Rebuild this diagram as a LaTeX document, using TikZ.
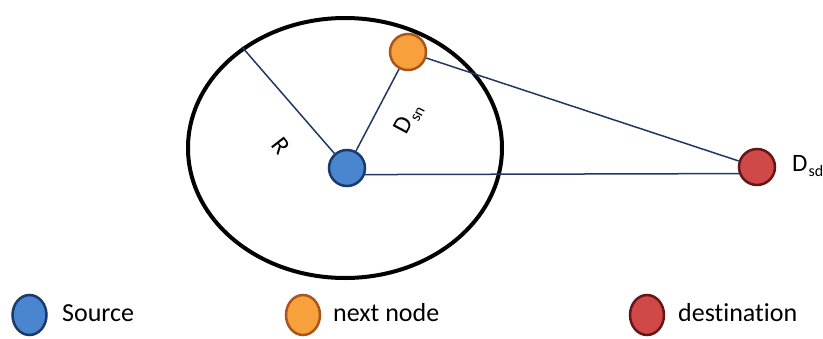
\documentclass[tikz,border=0pt]{standalone}
\usepackage{fontspec}
\setmainfont[Ligatures={NoCommon}]{Carlito}
\usetikzlibrary{shapes.geometric}
\definecolor{lineblue}{HTML}{1F3864}
\definecolor{srcfill}{HTML}{4A86D0}
\definecolor{srcdraw}{HTML}{1B3A6B}
\definecolor{nxtfill}{HTML}{F8A03C}
\definecolor{nxtdraw}{HTML}{A8561A}
\definecolor{dstfill}{HTML}{D04848}
\definecolor{dstdraw}{HTML}{651616}
\tikzset{
  dot/.style={circle, minimum size=36pt, inner sep=0pt, line width=2.5pt},
  legdot/.style={ellipse, minimum width=34pt, minimum height=40pt, inner sep=0pt, line width=2.5pt},
  link/.style={draw=lineblue, line width=1.5pt},
  legtext/.style={anchor=west, inner sep=0pt, font=\fontsize{26}{30}\selectfont},
  lab/.style={inner sep=0pt, font=\fontsize{25}{29}\selectfont}
}
\begin{document}
\begin{tikzpicture}[x=1pt, y=-1pt]
\useasboundingbox (0,0) rectangle (823,338);
% range circle
\draw[line width=4pt] (345,148) ellipse [x radius=157, y radius=130];
\coordinate (rim) at (242,47);
% nodes
\node[dot, fill=srcfill, draw=srcdraw] (s) at (347,168) {};
\node[dot, fill=nxtfill, draw=nxtdraw] (n) at (408,52) {};
\node[dot, fill=dstfill, draw=dstdraw] (d) at (757,167) {};
% connectors
\draw[link] (rim) -- (s);
\draw[link] (s) -- (n);
\draw[link] (n) -- (d);
\draw[link] (s.-20) -- (d.200);
% labels
\node[lab, rotate=-52] (lr) at (281,146) {R};
\node[lab, rotate=62] (lsn) at (409,119) {D\kern1.5pt\raisebox{-0.35ex}{\fontsize{16}{18}\selectfont sn}};
\node[lab, anchor=west] (lsd) at (792,166) {D\kern1pt\raisebox{-0.35ex}{\fontsize{16}{18}\selectfont sd}};
% legend
\node[legdot, fill=srcfill, draw=srcdraw] (ls) at (29.5,315) {};
\node[legtext] (lst) at (62,313) {Source};
\node[legdot, fill=nxtfill, draw=nxtdraw] (ln) at (303,315) {};
\node[legtext] (lnt) at (333,313) {next node};
\node[legdot, fill=dstfill, draw=dstdraw] (ld) at (647,315) {};
\node[legtext] (ldt) at (678,313) {destination};
\end{tikzpicture}
\end{document}
